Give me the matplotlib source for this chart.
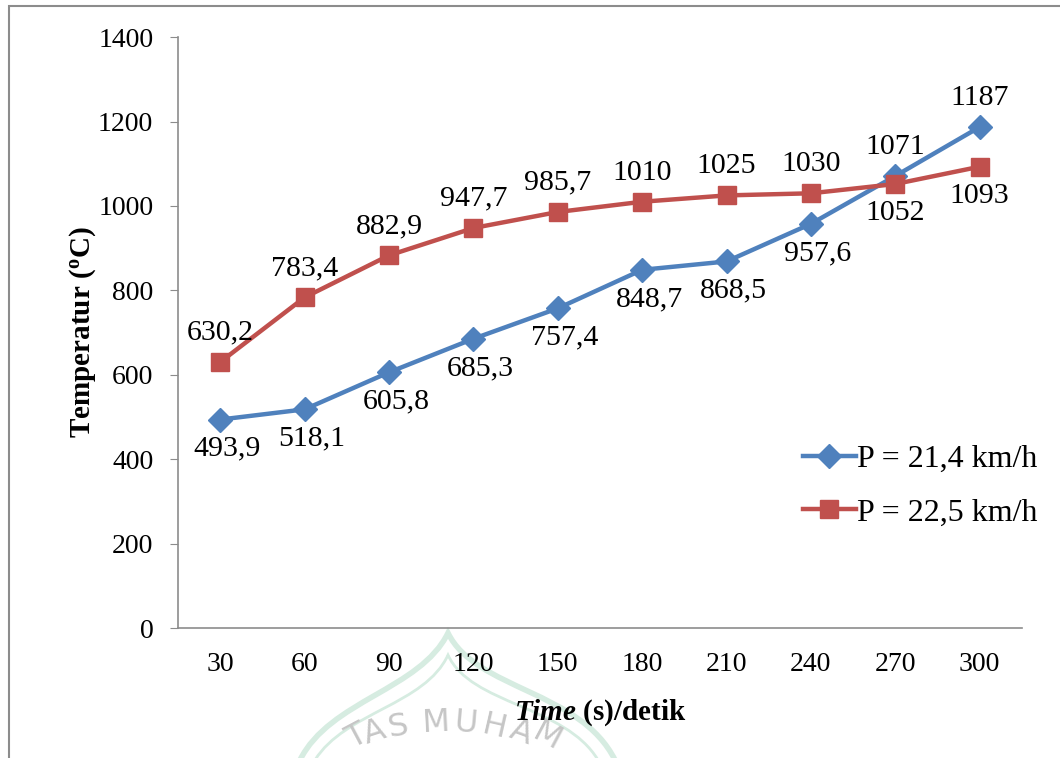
import matplotlib
matplotlib.use('Agg')
from matplotlib import pyplot as plt
from matplotlib.patches import Rectangle, PathPatch
from matplotlib.path import Path

times = ['30', '60', '90', '120', '150', '180', '210', '240', '270', '300']
temp_214 = [493.9, 518.1, 605.8, 685.3, 757.4, 848.7, 868.5, 957.6, 1071, 1187]
temp_225 = [630.2, 783.4, 882.9, 947.7, 985.7, 1010, 1025, 1030, 1052, 1093]
labels_214 = ['493,9', '518,1', '605,8', '685,3', '757,4', '848,7', '868,5', '957,6', '1071', '1187']
labels_225 = ['630,2', '783,4', '882,9', '947,7', '985,7', '1010', '1025', '1030', '1052', '1093']
# label above (+1) or below (-1) each point
pos_214 = [-1, -1, -1, -1, -1, -1, -1, -1, 1, 1]
pos_225 = [1, 1, 1, 1, 1, 1, 1, 1, -1, -1]

blue = '#4F81BD'
red = '#C0504D'
axis_color = '#8C8C8C'
W, H = 1060, 758

plt.rcParams['font.family'] = ['Liberation Serif', 'DejaVu Serif']
plt.rcParams['mathtext.fontset'] = 'custom'
plt.rcParams['mathtext.rm'] = 'Liberation Serif:bold'
plt.rcParams['mathtext.it'] = 'Liberation Serif:italic:bold'
plt.rcParams['mathtext.bf'] = 'Liberation Serif:bold'

fig = plt.figure(figsize=(W / 100, H / 100), dpi=100)
ax = fig.add_axes([0.168, 0.1715, 0.796, 0.7795])
ax.set_facecolor('none')

# outer chart frame (only left and top edges fall inside the picture)
fig.patches.append(Rectangle((9 / W, -0.1), 1.2, 1 - 6 / H + 0.1, transform=fig.transFigure,
                             fill=False, edgecolor='#8C8C8C', linewidth=1.5))

# faint watermark (logo arch and lettering) at the bottom, behind everything
def px(x, y):
    return (x / W, 1 - y / H)

arch_outer = [px(300, 760), px(330, 700), px(420, 690), px(448, 633),
              px(476, 690), px(580, 690), px(615, 760)]
arch_inner = [px(315, 760), px(345, 712), px(425, 705), px(448, 655),
              px(471, 705), px(565, 705), px(598, 760)]
codes = [Path.MOVETO, Path.CURVE4, Path.CURVE4, Path.CURVE4, Path.CURVE4, Path.CURVE4, Path.CURVE4]
for pts, lw in [(arch_outer, 4), (arch_inner, 2)]:
    fig.patches.append(PathPatch(Path(pts, codes), transform=fig.transFigure, fill=False,
                                 edgecolor='#D6ECE1', linewidth=lw, zorder=-2))
wm_letters = [('T', 357, 737, 28), ('A', 375, 733, 18), ('S', 398, 727, 10), ('M', 436, 723, 3),
              ('U', 466, 724, -5), ('H', 494, 727, -13), ('A', 521, 733, -20), ('M', 547, 737, -28)]
for ch, lx, ly, rot in wm_letters:
    fig.text(lx / W, 1 - ly / H, ch, fontsize=23, color='#C6C6C6', ha='center', va='center',
             rotation=rot, family='DejaVu Sans', zorder=-1)

x = list(range(len(times)))
ax.plot(x, temp_214, color=blue, linewidth=3.2, marker='D', markersize=12,
        label='P = 21,4 km/h', zorder=3)
ax.plot(x, temp_225, color=red, linewidth=3.2, marker='s', markersize=13,
        label='P = 22,5 km/h', zorder=3)

for vals, texts, where in [(temp_214, labels_214, pos_214), (temp_225, labels_225, pos_225)]:
    for xi, v, t, p in zip(x, vals, texts, where):
        dx = 5 if (p < 0 and vals is temp_214) else 0
        ax.annotate(t, (xi, v), xytext=(dx, 21 * p), textcoords='offset points',
                    ha='center', va='center', fontsize=21.5)

ax.set_xlim(-0.5, len(times) - 0.5)
ax.set_ylim(0, 1400)
ax.set_yticks(range(0, 1401, 200))
ax.set_xticks(x)
ax.set_xticklabels(times)
ax.tick_params(axis='both', labelsize=20, colors='black')
ax.tick_params(axis='y', length=5.8, color=axis_color, pad=12)
ax.tick_params(axis='x', length=0, pad=17)

for side in ['top', 'right']:
    ax.spines[side].set_visible(False)
for side in ['left', 'bottom']:
    ax.spines[side].set_color(axis_color)
    ax.spines[side].set_linewidth(1.2)

ax.set_ylabel(r'Temperatur ($^{\mathbf{o}}$C)', fontsize=21, fontweight='bold', labelpad=0)
ax.set_xlabel(r'$\mathit{Time}$ (s)/detik', fontsize=21, fontweight='bold', labelpad=15)

ax.legend(loc='center left', bbox_to_anchor=(803 / W, 1 - 486 / H), bbox_transform=fig.transFigure,
          frameon=False, fontsize=23, handlelength=1.65, handletextpad=0.05, labelspacing=0.75,
          borderpad=0, borderaxespad=0)

fig.savefig('out.png', dpi=100)
